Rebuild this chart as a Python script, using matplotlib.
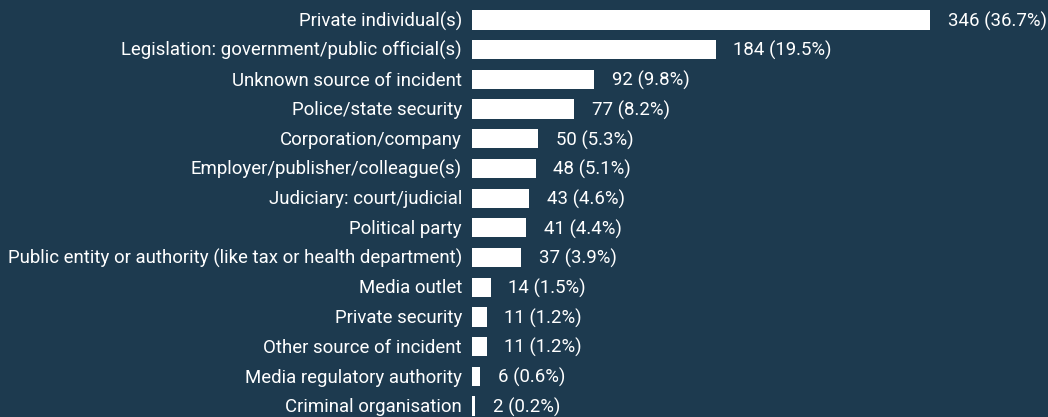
import matplotlib.pyplot as plt

categories = [
    "Private individual(s)",
    "Legislation: government/public official(s)",
    "Unknown source of incident",
    "Police/state security",
    "Corporation/company",
    "Employer/publisher/colleague(s)",
    "Judiciary: court/judicial",
    "Political party",
    "Public entity or authority (like tax or health department)",
    "Media outlet",
    "Private security",
    "Other source of incident",
    "Media regulatory authority",
    "Criminal organisation",
]
counts = [346, 184, 92, 77, 50, 48, 43, 41, 37, 14, 11, 11, 6, 2]
shares = [36.7, 19.5, 9.8, 8.2, 5.3, 5.1, 4.6, 4.4, 3.9, 1.5, 1.2, 1.2, 0.6, 0.2]

bg = "#1d3a4f"
plt.rcParams['font.family'] = ['Roboto', 'DejaVu Sans']

fig = plt.figure(figsize=(10.48, 4.17), dpi=100, facecolor=bg)
ax = fig.add_axes([472 / 1048, 0, 1 - 472 / 1048, 1])
ax.set_facecolor(bg)

y = list(range(len(categories)))
ax.barh(y, counts, height=0.65, color="white")

for i, (c, s) in enumerate(zip(counts, shares)):
    ax.text(c + 13.5, i + 0.04, f"{c} ({s}%)", va="center", ha="left",
            color="white", fontsize=13.4)
    ax.text(-7.5, i + 0.04, categories[i], va="center", ha="right",
            color="white", fontsize=13.4)

ax.set_xlim(0, 576 / 1.324)
ax.set_ylim(13.37, -0.673)
ax.axis("off")

fig.savefig("out.png", dpi=100, facecolor=bg)
